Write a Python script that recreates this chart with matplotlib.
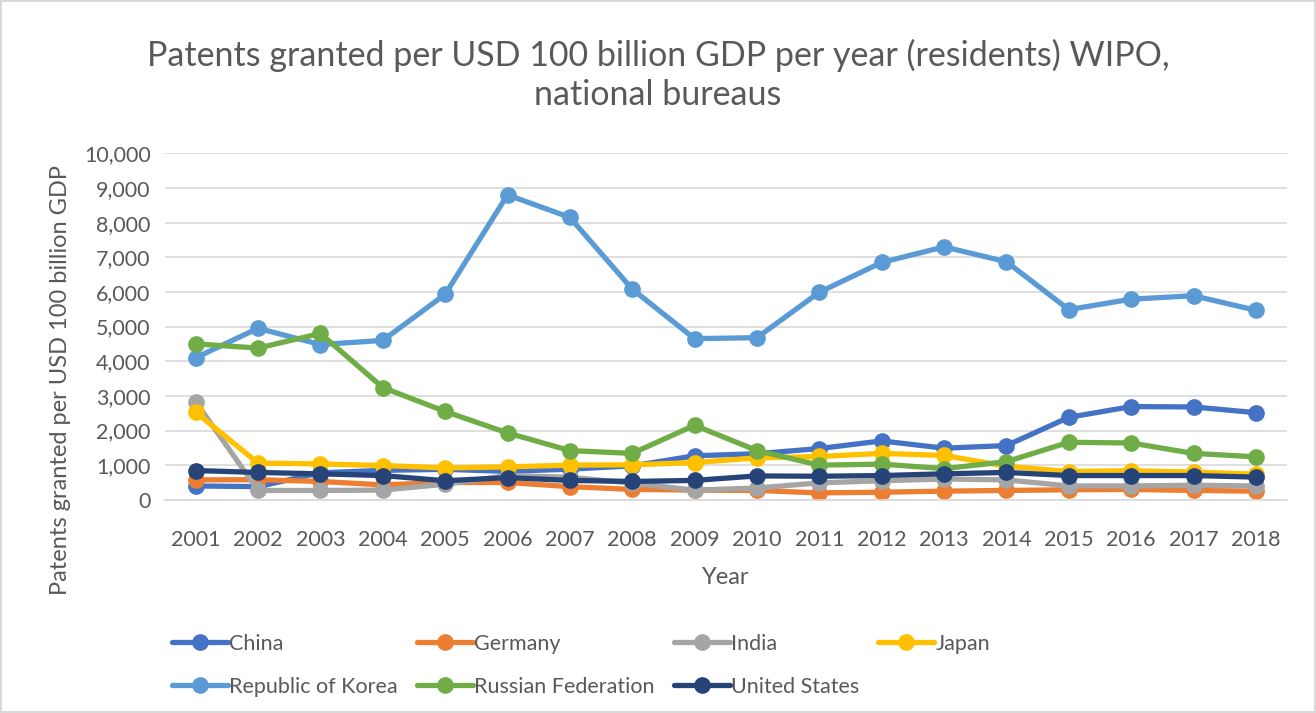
import matplotlib
matplotlib.use("Agg")
import matplotlib.pyplot as plt
from matplotlib.ticker import FuncFormatter

years = [str(y) for y in range(2001, 2019)]
china   = [400, 380, 780, 850, 880, 820, 885, 980, 1270, 1330, 1480, 1700, 1490, 1565, 2380, 2690, 2680, 2515]
germany = [575, 580, 530, 430, 500, 500, 380, 300, 280, 270, 200, 220, 250, 270, 290, 300, 270, 250]
india   = [2830, 270, 270, 280, 450, 700, 650, 480, 280, 340, 490, 550, 600, 575, 400, 400, 420, 400]
japan   = [2530, 1060, 1035, 990, 920, 950, 1000, 1010, 1075, 1210, 1250, 1340, 1280, 970, 815, 840, 800, 740]
korea   = [4100, 4950, 4480, 4600, 5930, 8800, 8150, 6080, 4650, 4680, 5990, 6850, 7300, 6870, 5490, 5790, 5890, 5470]
russia  = [4500, 4380, 4800, 3240, 2550, 1930, 1420, 1340, 2150, 1420, 1000, 1030, 900, 1100, 1660, 1640, 1340, 1240]
usa     = [845, 790, 750, 700, 550, 640, 560, 530, 560, 690, 680, 700, 750, 790, 700, 700, 700, 655]

series = [("China", china, "#4472C4"), ("Germany", germany, "#ED7D31"),
          ("India", india, "#A5A5A5"), ("Japan", japan, "#FFC000"),
          ("Republic of Korea", korea, "#5B9BD5"), ("Russian Federation", russia, "#70AD47"),
          ("United States", usa, "#264478")]

plt.rcParams['font.family'] = ['Lato', 'DejaVu Sans']
fig = plt.figure(figsize=(13.16, 7.13), dpi=100)
fig.patch.set_edgecolor('#d9d9d9')
fig.patch.set_linewidth(1.5)
ax = fig.add_axes([0.125, 0.299, 0.853, 0.486])

x = list(range(len(years)))
handles = {}
for name, vals, col in series:
    h, = ax.plot(x, vals, color=col, lw=3.8, marker='o', ms=11, label=name,
                 solid_capstyle='round', solid_joinstyle='round')
    handles[name] = h

ax.set_xlim(-0.5, len(years) - 0.5)
ax.set_ylim(0, 10000)
ax.set_yticks(range(0, 10001, 1000))
ax.yaxis.set_major_formatter(FuncFormatter(lambda v, p: f"{int(v):,}"))
ax.set_xticks(x)
ax.set_xticklabels(years)
ax.grid(axis='y', color='#d9d9d9', lw=1.2)
ax.set_axisbelow(True)
for s in ['top', 'right', 'left']:
    ax.spines[s].set_visible(False)
ax.spines['bottom'].set_color('#d9d9d9')
ax.spines['bottom'].set_linewidth(1.2)
ax.tick_params(axis='both', length=0, labelsize=15.5, colors='#595959', pad=10)
ax.tick_params(axis='x', pad=22)

ax.set_xlabel("Year", fontsize=17, color='#595959', labelpad=12)
ax.set_ylabel("Patents granted per USD 100 billion GDP", fontsize=17, color='#595959')
ax.yaxis.set_label_coords(-0.083, 0.346)
fig.text(0.5, 0.895, "Patents granted per USD 100 billion GDP per year (residents) WIPO,\nnational bureaus",
         ha='center', va='center', fontsize=24.5, color='#595959', linespacing=1.25)

order = ["China", "Republic of Korea", "Germany", "Russian Federation", "India", "United States", "Japan"]
leg = fig.legend([handles[n] for n in order], order, ncol=4, loc='upper left',
                 bbox_to_anchor=(0.124, 0.123), frameon=False, fontsize=15.5,
                 handlelength=2.6, handletextpad=0.05, columnspacing=0.9,
                 labelspacing=1.05, labelcolor='#595959', borderaxespad=0)
fig.savefig("out.png", dpi=100)
